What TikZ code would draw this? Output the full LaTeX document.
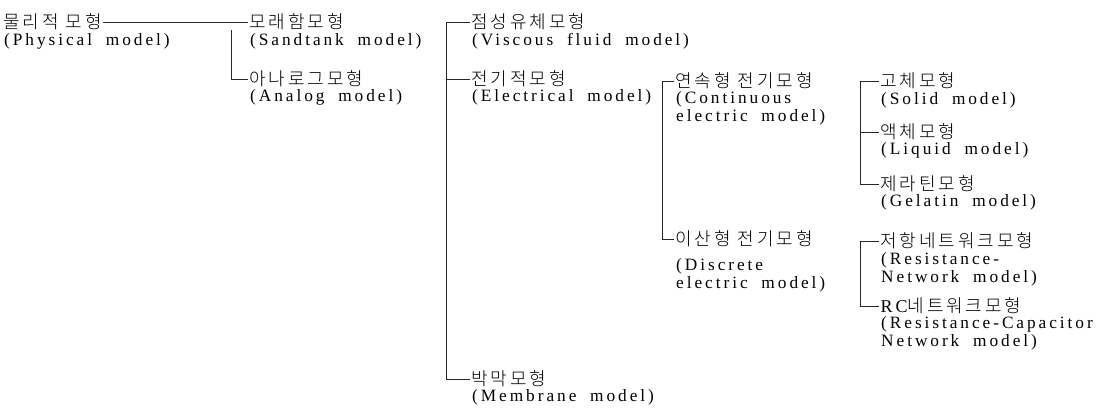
\documentclass[tikz,border=0pt]{standalone}
\usepackage{fontspec}
\setmainfont{Liberation Serif}[LetterSpace=17,WordSpace=1.9]
\newfontfamily\kr{Noto Sans CJK KR Light}[LetterSpace=16]
\begin{document}
\begin{tikzpicture}[x=1pt,y=-1pt,
  kor/.style={font=\kr\fontsize{18}{20}\selectfont, inner sep=0pt, outer sep=1.5pt, anchor=west, text height=14pt, text depth=1pt},
  eng/.style={font=\fontsize{17.3}{20}\selectfont, inner sep=0pt, anchor=west, text height=12.5pt, text depth=4pt},
  conn/.style={line width=0.7pt, draw=black!85}]
\path[use as bounding box] (0,0) rectangle (1101,413);

% column A
\node[kor] (phys) at (2,22) {물리적 모형};
\node[eng] (physE) at (4,41) {(Physical model)};

% column B
\node[kor] (sand) at (248,22) {모래함모형};
\node[eng] (sandE) at (250,41) {(Sandtank model)};
\node[kor] (analog) at (248,79) {아나로그모형};
\node[eng] (analogE) at (250,97) {(Analog model)};

% column C
\node[kor] (visc) at (470,22) {점성유체모형};
\node[eng] (viscE) at (472,41) {(Viscous fluid model)};
\node[kor] (elec) at (470,79) {전기적모형};
\node[eng] (elecE) at (472,97) {(Electrical model)};
\node[kor] (memb) at (470,379) {박막모형};
\node[eng] (membE) at (472,397) {(Membrane model)};

% column D
\node[kor] (cont) at (674,81) {연속형 전기모형};
\node[eng] (contE1) at (676,99) {(Continuous};
\node[eng] (contE2) at (676,117) {electric model)};
\node[kor] (disc) at (674,239) {이산형 전기모형};
\node[eng] (discE1) at (676,266) {(Discrete};
\node[eng] (discE2) at (676,284) {electric model)};

% column E
\node[kor] (solid) at (879,81) {고체모형};
\node[eng] (solidE) at (881,100) {(Solid model)};
\node[kor] (liq) at (879,132) {액체모형};
\node[eng] (liqE) at (881,150) {(Liquid model)};
\node[kor] (gel) at (879,184) {제라틴모형};
\node[eng] (gelE) at (881,202) {(Gelatin model)};
\node[kor] (res) at (879,241) {저항네트워크모형};
\node[eng] (resE1) at (881,260) {(Resistance-};
\node[eng] (resE2) at (881,278) {Network model)};
\node[kor] (rc) at (879,306) {{\rmfamily RC}네트워크모형};
\node[eng] (rcE1) at (881,324) {(Resistance-Capacitor};
\node[eng] (rcE2) at (881,342) {Network model)};

% connectors
\draw[conn] (phys.east) -- (sand.west);
\coordinate (bT) at (231,30);
\draw[conn] (bT) |- (analog.west);

\coordinate (cB) at (446,379);
\draw[conn] (visc.west) -| (cB) -- (memb.west);
\draw[conn] (elec.west) -- (elec.west -| cB);

\coordinate (dB) at (662,239);
\draw[conn] (cont.west) -| (dB) -- (disc.west);

\coordinate (eB) at (860,184);
\draw[conn] (solid.west) -| (eB) -- (gel.west);
\draw[conn] (liq.west) -- (liq.west -| eB);

\coordinate (fB) at (860,306);
\draw[conn] (res.west) -| (fB) -- (rc.west);
\end{tikzpicture}
\end{document}
